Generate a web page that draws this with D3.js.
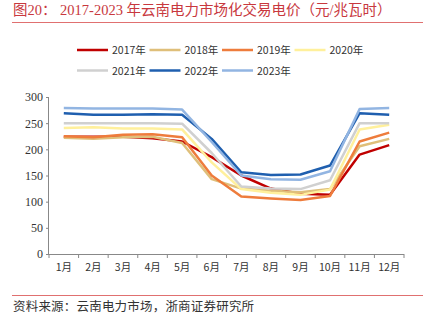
<!DOCTYPE html>
<html><head><meta charset="utf-8">
<script src="https://cdn.jsdelivr.net/npm/d3@7/dist/d3.min.js"></script>
<style>
html,body{margin:0;padding:0;background:#fff;}
svg{display:block;}
</style></head>
<body>
<svg id="c" width="434" height="331"></svg>
<script>
const months = ["1月","2月","3月","4月","5月","6月","7月","8月","9月","10月","11月","12月"];
const seriesNames = ["2017年","2018年","2019年","2020年","2021年","2022年","2023年"];
const v2017 = [224,224,224,221,215,185,150,125,115,113,190,208];
const v2018 = [222,220,223,224,212,143,125,121,118,124,206,220];
const v2019 = [225,223,228,229,223,150,110,106,103,111,215,232];
const v2020 = [241,242,240,240,238,175,124,117,113,123,238,247];
const v2021 = [250,250,250,250,249,193,129,125,124,141,250,250];
const v2022 = [269,266,266,267,266,220,156,151,152,169,269,266];
const v2023 = [279,278,278,278,276,214,150,143,142,158,277,279];
const yTicks = [0,50,100,150,200,250,300];
const colors = ["#C00000","#DFBF7A","#EE7C3C","#FFF09C","#D0D0D0","#1F5FAF","#92B5E2"];
const values = [v2017,v2018,v2019,v2020,v2021,v2022,v2023];

const svg = d3.select("#c");
const cjk = "'Noto Sans CJK SC', sans-serif";
const serif = "'Liberation Serif', 'Noto Sans CJK SC', serif";

// Title
svg.append("text").attr("x",13).attr("y",15)
  .attr("font-family",serif).attr("font-size",14.5).attr("fill","#C8383E")
  .text("图20：  2017-2023 年云南电力市场化交易电价（元/兆瓦时）");
svg.append("line").attr("x1",12).attr("x2",423).attr("y1",22.5).attr("y2",22.5)
  .attr("stroke","#E07070").attr("stroke-width",1.2);

// Bottom rule and source
svg.append("line").attr("x1",12).attr("x2",423).attr("y1",295.5).attr("y2",295.5)
  .attr("stroke","#E07070").attr("stroke-width",1.2);
svg.append("text").attr("x",13).attr("y",311)
  .attr("font-family",serif).attr("font-size",12.5).attr("letter-spacing",0.2).attr("fill","#333")
  .text("资料来源：云南电力市场，浙商证券研究所");

const x = d3.scaleBand().domain(months).range([49,404]);
const y = d3.scaleLinear().domain([0,300]).range([254,97]);

// Y axis
const ya = svg.append("g").attr("transform","translate(49,0)")
  .call(d3.axisLeft(y).tickValues(yTicks).tickSize(3).tickPadding(3));
ya.selectAll("path,line").attr("stroke","#888");
ya.select("path").attr("d","M-0.5,"+y(300)+"V"+(y(0)+0.5));
ya.selectAll("text").attr("font-family",serif).attr("font-size",12).attr("fill","#333");

// X axis
const xa = svg.append("g").attr("transform","translate(0,254)")
  .call(d3.axisBottom(x).tickSize(0).tickPadding(10));
xa.select("path").attr("stroke","#888").attr("d","M49,0.5H404");
xa.selectAll("text").attr("font-family",cjk).attr("font-size",10.5).attr("fill","#333");
const bounds = months.map(m=>x(m)).concat([x.range()[1]]);
svg.append("g").selectAll("line").data(bounds).join("line")
  .attr("x1",d=>d).attr("x2",d=>d).attr("y1",254).attr("y2",258)
  .attr("stroke","#888");

// Lines
const line = d3.line().x((d,i)=>x(months[i])+x.bandwidth()/2).y(d=>y(d));
svg.append("g").selectAll("path").data(values).join("path")
  .attr("d",line).attr("fill","none")
  .attr("stroke",(d,i)=>colors[i]).attr("stroke-width",2.5)
  .attr("stroke-linejoin","round");

// Legend
const leg = svg.append("g");
seriesNames.forEach((n,i)=>{
  const col = i%4, row = Math.floor(i/4);
  const lx = 77 + col*72.5, ly = 50 + row*20.5;
  leg.append("line").attr("x1",lx).attr("x2",lx+31).attr("y1",ly).attr("y2",ly)
    .attr("stroke",colors[i]).attr("stroke-width",2.5);
  leg.append("text").attr("x",lx+35).attr("y",ly+4)
    .attr("font-family",cjk).attr("font-size",10.5).attr("fill","#333").text(n);
});
</script>
</body></html>
